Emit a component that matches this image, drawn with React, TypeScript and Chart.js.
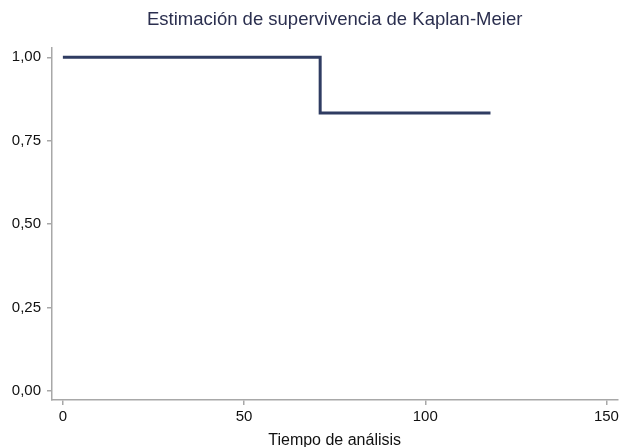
import React, { useEffect, useRef } from "react";
import { Chart, registerables } from "chart.js";

Chart.register(...registerables);

const eventTimes = [0, 71, 118];
const survival = [1.0, 0.8333, 0.8333];
const xTicks = [0, 50, 100, 150];
const yTicks = [0, 0.25, 0.5, 0.75, 1.0];
const titleText = "Estimación de supervivencia de Kaplan-Meier";
const xTitle = "Tiempo de análisis";

export default function App() {
  const ref = useRef<HTMLCanvasElement | null>(null);
  useEffect(() => {
    if (!ref.current) return;
    const pts: { x: number; y: number }[] = [];
    eventTimes.forEach((t, i) => {
      if (i > 0 && survival[i] !== survival[i - 1]) pts.push({ x: t, y: survival[i - 1] });
      pts.push({ x: t, y: survival[i] });
    });
    const font = "'Liberation Sans', Arial, Helvetica, sans-serif";
    const axisColor = "#a8a8a8";
    const titlePlugin = {
      id: "centeredTitle",
      afterDraw(c: any) {
        const ctx = c.ctx;
        const area = c.chartArea;
        ctx.save();
        ctx.font = `18.5px ${font}`;
        ctx.fillStyle = "#2b2f4f";
        ctx.textAlign = "center";
        ctx.textBaseline = "alphabetic";
        ctx.fillText(titleText, (area.left + area.right) / 2, 25);
        ctx.restore();
      },
    };
    const chart = new Chart(ref.current, {
      type: "line",
      data: {
        datasets: [
          {
            data: pts,
            borderColor: "#2f3c62",
            borderWidth: 3,
            pointRadius: 0,
            fill: false,
            tension: 0,
            borderJoinStyle: "miter",
          },
        ],
      },
      plugins: [titlePlugin],
      options: {
        animation: false,
        responsive: false,
        devicePixelRatio: 1,
        layout: { padding: { left: 0, right: 2, top: 48, bottom: 0 } },
        plugins: {
          legend: { display: false },
          tooltip: { enabled: false },
          title: { display: false },
        },
        scales: {
          x: {
            type: "linear",
            min: -3,
            max: 153,
            afterFit: (s: any) => {
              s.height = 47;
            },
            afterBuildTicks: (s: any) => {
              s.ticks = xTicks.map((v) => ({ value: v }));
            },
            grid: { drawOnChartArea: false, drawTicks: true, tickLength: 5, color: axisColor, lineWidth: 1.5 },
            border: { display: true, color: axisColor, width: 1.5 },
            ticks: { color: "#111", font: { family: font, size: 15 }, padding: 3, maxRotation: 0, autoSkip: false },
            title: {
              display: true,
              text: xTitle,
              color: "#111",
              font: { family: font, size: 16 },
              padding: { top: 0, bottom: -3 },
            },
          },
          y: {
            type: "linear",
            min: -0.027,
            max: 1.028,
            afterFit: (s: any) => {
              s.width = 52;
            },
            afterBuildTicks: (s: any) => {
              s.ticks = yTicks.map((v) => ({ value: v }));
            },
            grid: { drawOnChartArea: false, drawTicks: true, tickLength: 5, color: axisColor, lineWidth: 1.5 },
            border: { display: true, color: axisColor, width: 1.5 },
            ticks: {
              color: "#111",
              font: { family: font, size: 15 },
              padding: 6,
              callback: (v: any) => Number(v).toFixed(2).replace(".", ","),
            },
          },
        },
      },
    });
    return () => chart.destroy();
  }, []);
  return (
    <div style={{ position: "fixed", left: 0, top: 0, width: 622, height: 447, background: "#fff" }}>
      <canvas ref={ref} width={622} height={447} style={{ width: 622, height: 447 }} />
    </div>
  );
}
